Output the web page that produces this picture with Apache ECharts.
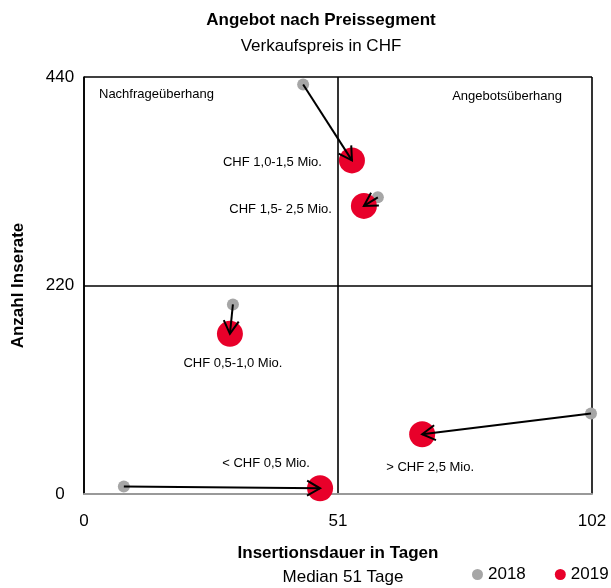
<!DOCTYPE html>
<html><head><meta charset="utf-8">
<script src="https://cdn.jsdelivr.net/npm/echarts@6/dist/echarts.min.js"></script>
<style>html,body{margin:0;padding:0;background:#fff}#c{width:611px;height:588px}</style>
</head><body><div id="c"></div>
<script>
var segments = ['CHF 1,0-1,5 Mio.', 'CHF 1,5- 2,5 Mio.', 'CHF 0,5-1,0 Mio.', '< CHF 0,5 Mio.', '> CHF 2,5 Mio.'];
var days2018 = [44.0, 59.0, 29.9, 8.0, 101.8];
var count2018 = [432, 313, 200, 8, 85];
var days2019 = [53.8, 56.2, 29.3, 47.4, 67.9];
var count2019 = [352, 304, 169, 6, 63];
var xTicks = [0, 51, 102];
var yTicks = [0, 220, 440];

var FONT = "'Liberation Sans', Arial, sans-serif";
var labelPlacement = [
  {position: 'left', distance: 17, offset: [0, 2]},
  {position: 'left', distance: 19, offset: [0, 4]},
  {position: 'bottom', distance: 10, offset: [3, 0]},
  {position: 'top', distance: 5, offset: [-54, 0]},
  {position: 'bottom', distance: 14, offset: [8, 0]}
];

var chart = echarts.init(document.getElementById('c'));
var d18 = segments.map(function (s, i) { return {name: s, value: [days2018[i], count2018[i]]}; });
var d19 = segments.map(function (s, i) {
  var p = labelPlacement[i];
  return {name: s, value: [days2019[i], count2019[i]],
    label: {show: true, position: p.position, distance: p.distance, offset: p.offset}};
});
var arrows = segments.map(function (s, i) { return [days2018[i], count2018[i], days2019[i], count2019[i]]; });

chart.setOption({
  animation: false,
  textStyle: {fontFamily: FONT},
  title: [
    {text: 'Angebot nach Preissegment', subtext: 'Verkaufspreis in CHF', left: 316, top: 7, textAlign: 'center',
     textStyle: {fontFamily: FONT, fontSize: 17, fontWeight: 'bold', color: '#000'},
     subtextStyle: {fontFamily: FONT, fontSize: 17, color: '#000'}, itemGap: 9},
    {text: 'Median 51 Tage', left: 338, top: 564, textAlign: 'center',
     textStyle: {fontFamily: FONT, fontSize: 17, fontWeight: 'normal', color: '#000'}}
  ],
  legend: {
    data: ['2018', '2019'], left: 472, top: 566, padding: 0, icon: 'circle', itemWidth: 11, itemHeight: 11, itemGap: 29,
    textStyle: {fontFamily: FONT, fontSize: 17, color: '#000'}
  },
  grid: {left: 84, right: 19, top: 77, bottom: 94, containLabel: false, outerBoundsMode: 'none'},
  xAxis: {
    type: 'value', min: xTicks[0], max: xTicks[xTicks.length - 1], interval: xTicks[1] - xTicks[0],
    name: 'Insertionsdauer in Tagen', nameLocation: 'middle', nameGap: 51,
    nameTextStyle: {fontFamily: FONT, fontSize: 17, fontWeight: 'bold', color: '#000'},
    axisLine: {show: true, onZero: false, lineStyle: {color: '#999', width: 2}},
    axisTick: {show: false},
    axisLabel: {fontFamily: FONT, fontSize: 17, color: '#000', margin: 19},
    splitLine: {show: true, lineStyle: {color: '#000', width: 1.6}}
  },
  yAxis: {
    type: 'value', min: yTicks[0], max: yTicks[yTicks.length - 1], interval: yTicks[1] - yTicks[0],
    name: 'Anzahl Inserate', nameLocation: 'middle', nameGap: 57,
    nameTextStyle: {fontFamily: FONT, fontSize: 17, fontWeight: 'bold', color: '#000'},
    axisLine: {show: true, lineStyle: {color: '#000', width: 1.6}},
    axisTick: {show: false},
    axisLabel: {fontFamily: FONT, fontSize: 17, color: '#000', margin: 24, align: 'center'},
    splitLine: {show: true, lineStyle: {color: '#000', width: 1.6}}
  },
  series: [
    {name: '2018', type: 'scatter', data: d18, symbolSize: 12, itemStyle: {color: '#a6a6a6', opacity: 1}, z: 2},
    {name: '2019', type: 'scatter', data: d19, symbolSize: 26, itemStyle: {color: '#e8002a', opacity: 1}, z: 3,
     label: {fontFamily: FONT, fontSize: 13, color: '#000', formatter: '{b}'}},
    {name: 'arrows', type: 'custom', data: arrows, z: 5, silent: true,
     encode: {x: [0, 2], y: [1, 3]},
     renderItem: function (params, api) {
       var p0 = api.coord([api.value(0), api.value(1)]);
       var p1 = api.coord([api.value(2), api.value(3)]);
       var ang = Math.atan2(p1[1] - p0[1], p1[0] - p0[0]);
       var L = 15, a = Math.PI / 6;
       var h1 = [p1[0] - L * Math.cos(ang - a), p1[1] - L * Math.sin(ang - a)];
       var h2 = [p1[0] - L * Math.cos(ang + a), p1[1] - L * Math.sin(ang + a)];
       var st = {stroke: '#000', lineWidth: 2, fill: null};
       return {type: 'group', children: [
         {type: 'line', shape: {x1: p0[0], y1: p0[1], x2: p1[0], y2: p1[1]}, style: st},
         {type: 'polyline', shape: {points: [h1, p1, h2]}, style: st}
       ]};
     }}
  ],
  graphic: [
    {type: 'text', left: 99, top: 88, style: {text: 'Nachfrageüberhang', font: '13px ' + FONT, fill: '#000'}},
    {type: 'text', right: 49, top: 90, style: {text: 'Angebotsüberhang', font: '13px ' + FONT, fill: '#000'}}
  ]
});
</script></body></html>
